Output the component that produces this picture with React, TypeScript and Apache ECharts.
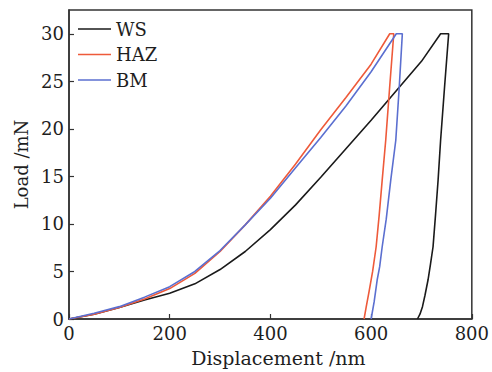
import React, { useEffect, useRef } from "react";
import * as echarts from "echarts";

// Displacement (nm) and load (mN)
const wsDisp = [0, 50, 100, 150, 200, 250, 300, 350, 400, 450, 500, 550, 600, 650, 700, 738, 754, 746, 738, 733, 728, 723, 718, 713, 707, 702, 697, 692];
const wsLoad = [0, 0.5, 1.2, 2.0, 2.7, 3.7, 5.2, 7.1, 9.4, 12.0, 14.9, 17.9, 20.9, 24.0, 27.1, 30, 30, 24.5, 18.8, 14.6, 11, 7.6, 5.8, 4.1, 2.5, 1.3, 0.5, 0];

const hazDisp = [0, 50, 100, 150, 200, 250, 300, 350, 400, 450, 500, 550, 600, 637, 645, 637, 629, 622, 616, 610, 603, 596, 590, 586];
const hazLoad = [0, 0.5, 1.2, 2.1, 3.2, 4.8, 7.1, 9.9, 12.9, 16.3, 19.9, 23.3, 26.8, 30, 30, 24.5, 18.8, 14.6, 10.9, 7.6, 5.0, 2.9, 1.2, 0];

const bmDisp = [0, 50, 100, 150, 200, 250, 300, 350, 400, 450, 500, 550, 600, 650, 662, 656, 649, 639, 630, 622, 617, 612, 606, 600];
const bmLoad = [0, 0.6, 1.3, 2.3, 3.4, 5.0, 7.2, 9.9, 12.7, 15.9, 19.1, 22.4, 26.0, 30, 30, 24.5, 18.8, 14.6, 10.5, 7.6, 5.5, 4.1, 1.8, 0];

const seriesNames = ["WS", "HAZ", "BM"];
const seriesColors = ["#1a1a1a", "#ee5a3a", "#5b6fd0"];

const xTicks = [0, 200, 400, 600, 800];
const yTicks = [0, 5, 10, 15, 20, 25, 30];

const zip = (xs: number[], ys: number[]) => xs.map((x, i) => [x, ys[i]]);

const FONT = "DejaVu Serif";
const TEXT = "#1e1e1e";
const FS = 18;

export default function App() {
  const ref = useRef<HTMLDivElement>(null);
  useEffect(() => {
    if (!ref.current) return;
    const chart = echarts.init(ref.current, undefined, { renderer: "svg" });
    const data = [zip(wsDisp, wsLoad), zip(hazDisp, hazLoad), zip(bmDisp, bmLoad)];
    chart.setOption({
      animation: false,
      backgroundColor: "#ffffff",
      grid: {
        left: 69,
        right: 18,
        top: 10,
        bottom: 53,
        show: true,
        borderColor: "#333",
        borderWidth: 1.5,
        containLabel: false,
      },
      legend: {
        orient: "vertical",
        left: 73,
        top: 15,
        icon: "rect",
        itemWidth: 33,
        itemHeight: 1.6,
        itemGap: 7.5,
        data: seriesNames,
        textStyle: { fontFamily: FONT, fontSize: FS, color: TEXT },
      },
      xAxis: {
        type: "value",
        min: xTicks[0],
        max: xTicks[xTicks.length - 1],
        interval: 200,
        name: "Displacement /nm",
        nameLocation: "middle",
        nameGap: 29,
        nameTextStyle: { fontFamily: FONT, fontSize: 19, color: TEXT, padding: [0, 0, 0, 16] },
        axisLine: { lineStyle: { color: "#333", width: 1.5 } },
        axisTick: { inside: true, length: 5, lineStyle: { color: "#333", width: 1.2 } },
        axisLabel: { fontFamily: FONT, fontSize: FS, color: TEXT, margin: 5 },
        splitLine: { show: false },
      },
      yAxis: {
        type: "value",
        min: yTicks[0],
        max: 32.5,
        interval: 5,
        name: "Load /mN",
        nameLocation: "middle",
        nameGap: 35,
        nameRotate: 90,
        nameTextStyle: { fontFamily: FONT, fontSize: FS, color: TEXT },
        axisLine: { lineStyle: { color: "#333", width: 1.5 } },
        axisTick: { inside: true, length: 5, lineStyle: { color: "#333", width: 1.2 } },
        axisLabel: {
          fontFamily: FONT,
          fontSize: FS,
          color: TEXT,
          margin: 5,
          showMaxLabel: false,
          formatter: (v: number) => (yTicks.includes(v) ? String(v) : ""),
        },
        splitLine: { show: false },
      },
      series: seriesNames.map((name, i) => ({
        name,
        type: "line",
        data: data[i],
        symbol: "none",
        smooth: false,
        lineStyle: { color: seriesColors[i], width: 1.6 },
        itemStyle: { color: seriesColors[i] },
      })),
    });
    return () => chart.dispose();
  }, []);
  return (
    <div
      ref={ref}
      style={{ position: "fixed", left: 0, top: 0, width: 492, height: 372, background: "#fff" }}
    />
  );
}
